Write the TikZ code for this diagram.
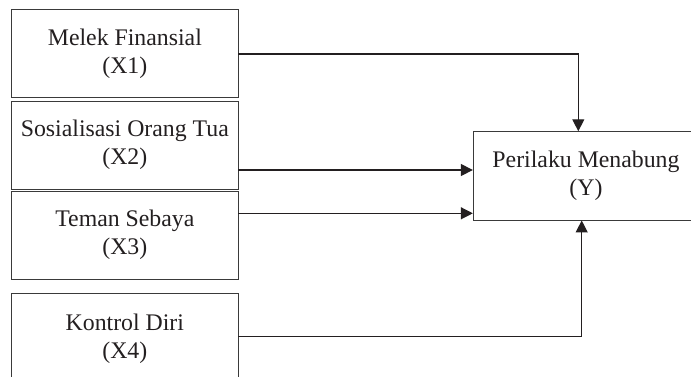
\documentclass[tikz,border=0pt]{standalone}
\usepackage{fontspec}
\setmainfont{Liberation Serif}
\usetikzlibrary{arrows.meta}
\definecolor{ink}{HTML}{231F20}
\definecolor{boxline}{HTML}{3A3A3A}
\begin{document}
\begin{tikzpicture}[x=1pt,y=-1pt,
  box/.style={draw=boxline,line width=0.9pt,inner sep=0pt,align=center,
    text=ink,font=\fontsize{23.8}{28}\selectfont},
  arr/.style={draw=ink,line width=1.2pt,-{Triangle[length=12pt,width=12pt]}}]
\useasboundingbox (0,0) rectangle (691,376);
\clip (0,0) rectangle (691,376);
\node[box,minimum width=226.3pt,minimum height=88.2pt] (X1) at (124.85,53.6) {Melek Finansial\\(X1)};
\node[box,minimum width=226.3pt,minimum height=88pt] (X2) at (124.85,145) {\raisebox{-4pt}{\begin{tabular}{@{}c@{}}Sosialisasi Orang Tua\\(X2)\end{tabular}}};
\node[box,minimum width=226.3pt,minimum height=88.3pt] (X3) at (124.85,235.15) {Teman Sebaya\\(X3)};
\node[box,minimum width=226.3pt,minimum height=91.4pt] (X4) at (124.85,339) {Kontrol Diri\\(X4)};
\node[box,minimum width=225.4pt,minimum height=88.3pt] (Y) at (586,175.85) {Perilaku Menabung\\(Y)};
\draw[arr] (X1.east |- 0,54) -| ([xshift=-7.7pt]Y.north);
\draw[arr] (X2.east |- 0,170) -- (Y.west |- 0,170);
\draw[arr] (X3.east |- 0,213.3) -- (Y.west |- 0,213.3);
\draw[arr] (X4.east |- 0,336.7) -| ([xshift=-4.3pt]Y.south);
\end{tikzpicture}
\end{document}
